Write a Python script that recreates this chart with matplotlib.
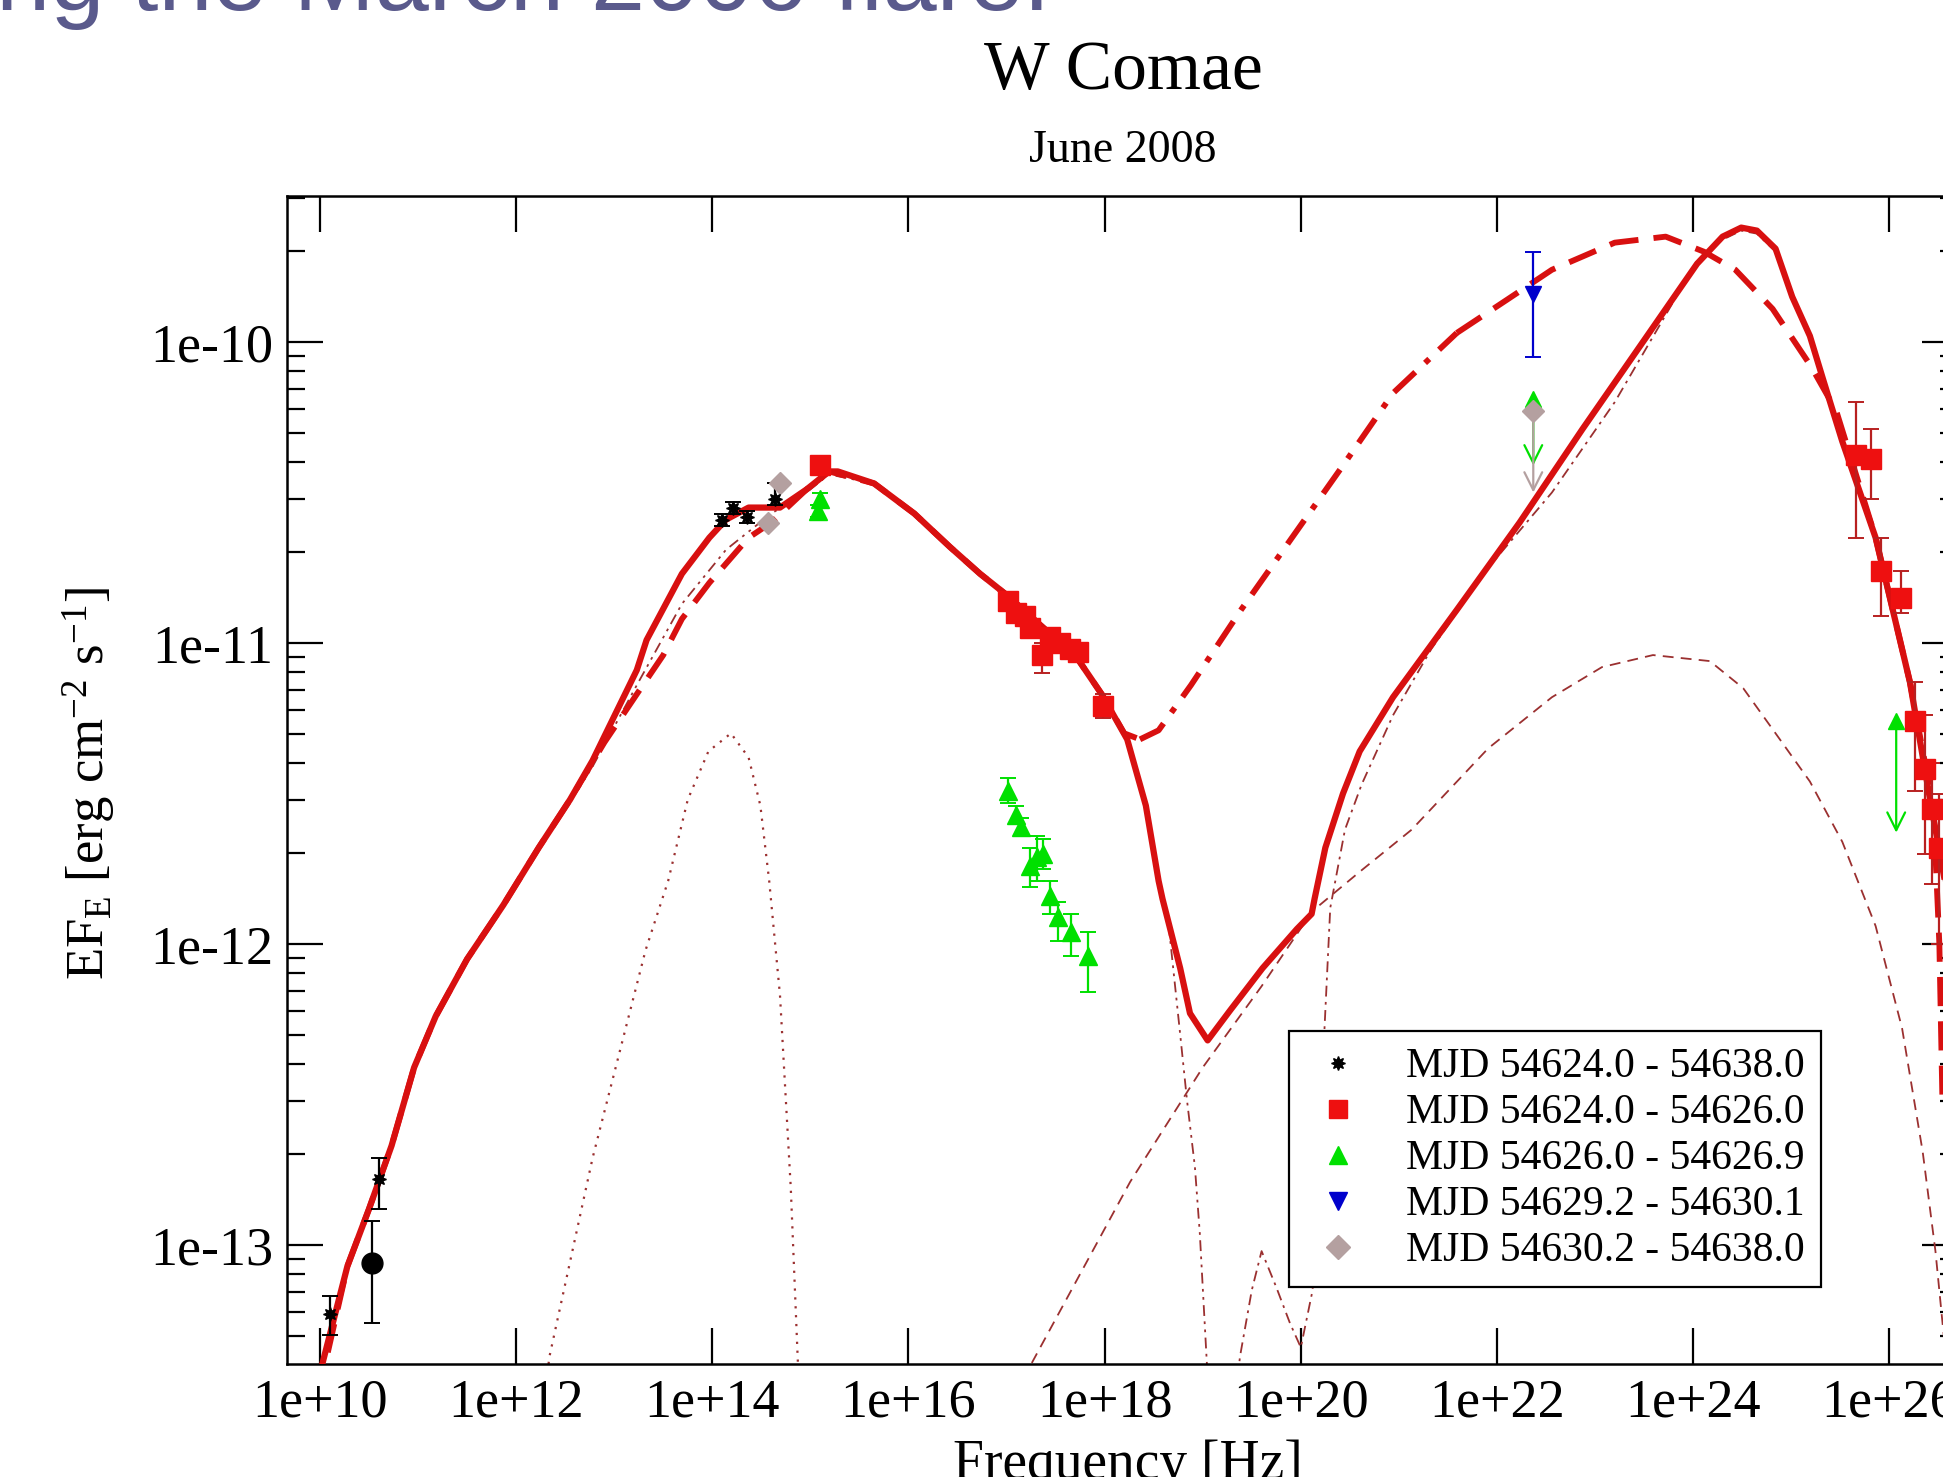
import matplotlib
matplotlib.use("Agg")
import matplotlib.pyplot as plt
from matplotlib.lines import Line2D
import numpy as np

plt.rcParams["font.family"] = ["Liberation Serif", "DejaVu Serif"]
plt.rcParams["mathtext.fontset"] = "custom"
plt.rcParams["mathtext.rm"] = "Liberation Serif"
plt.rcParams["mathtext.it"] = "Liberation Serif:italic"

# ---- model curves (log10 nu [Hz], log10 EF_E) ----
total_lognu = [9.98, 10.02, 10.28, 10.50, 10.73, 10.96, 11.18, 11.50, 11.87, 12.23,
               12.55, 12.78, 13.23, 13.33, 13.69, 13.97, 14.14, 14.37, 14.69, 14.96,
               15.19, 15.28, 15.65, 16.06, 16.42, 16.73, 17.00, 17.72, 17.97, 18.23,
               18.42, 18.55, 18.59, 18.77, 18.87, 19.05, 19.28, 19.61, 19.96, 20.11,
               20.14, 20.25, 20.43, 20.60, 20.94, 21.59, 22.23, 22.87, 23.53, 24.04,
               24.30, 24.49, 24.65, 24.84, 25.01, 25.19, 25.33, 25.52, 25.86, 26.21,
               26.41, 26.56]
total_logf = [-13.50, -13.40, -13.07, -12.88, -12.67, -12.41, -12.24, -12.05, -11.87, -11.68,
              -11.52, -11.39, -11.09, -10.99, -10.77, -10.65, -10.59, -10.55, -10.55, -10.49,
              -10.43, -10.43, -10.47, -10.57, -10.68, -10.77, -10.84, -11.05, -11.17, -11.32,
              -11.54, -11.79, -11.85, -12.08, -12.23, -12.32, -12.22, -12.08, -11.95, -11.90,
              -11.85, -11.68, -11.50, -11.36, -11.18, -10.89, -10.60, -10.29, -9.98, -9.74,
              -9.65, -9.62, -9.63, -9.69, -9.85, -9.98, -10.13, -10.33, -10.65, -11.13,
              -11.51, -11.78]

state2_lognu = [9.98, 10.28, 10.50, 10.73, 10.96, 11.18, 11.50, 11.87, 12.23, 12.55,
                12.90, 13.23, 13.50, 13.69, 13.97, 14.37, 14.60, 14.96, 15.19, 15.65,
                16.06, 16.42, 16.73, 17.00, 17.72, 17.97, 18.20, 18.36, 18.55, 18.88,
                19.39, 19.91, 20.43, 20.94, 21.59, 22.10, 22.56, 23.20, 23.72, 24.11,
                24.43, 24.81, 25.20, 25.46, 25.86, 26.21, 26.45, 26.51, 26.54]
state2_logf = [-13.50, -13.07, -12.88, -12.67, -12.41, -12.24, -12.05, -11.87, -11.68, -11.52,
               -11.33, -11.17, -11.04, -10.92, -10.80, -10.65, -10.60, -10.49, -10.43, -10.47,
               -10.57, -10.68, -10.77, -10.84, -11.05, -11.17, -11.30, -11.32, -11.29, -11.14,
               -10.89, -10.65, -10.41, -10.17, -9.97, -9.86, -9.76, -9.67, -9.65, -9.70,
               -9.76, -9.89, -10.08, -10.23, -10.65, -11.13, -11.55, -12.00, -12.50]

sync_lognu = [12.23, 12.55, 12.78, 13.23, 13.69, 14.14, 14.60, 14.96, 15.19, 15.65,
              16.06, 16.42, 16.73, 17.00, 17.72, 17.97, 18.23, 18.42, 18.55, 18.66,
              18.77, 18.84, 18.92, 18.97, 19.04, 19.08]
sync_logf = [-11.68, -11.53, -11.41, -11.14, -10.87, -10.69, -10.57, -10.50, -10.44, -10.47,
             -10.57, -10.68, -10.77, -10.84, -11.05, -11.17, -11.32, -11.54, -11.79, -11.96,
             -12.30, -12.52, -12.74, -12.96, -13.38, -13.60]

ssc_lognu = [17.10, 17.26, 18.26, 19.00, 19.60, 20.12, 20.60, 21.13, 21.91, 22.56,
             23.07, 23.59, 24.17, 24.51, 24.84, 25.19, 25.52, 25.86, 26.13, 26.34,
             26.47, 26.60]
ssc_logf = [-13.50, -13.39, -12.79, -12.41, -12.14, -11.89, -11.76, -11.62, -11.35, -11.18,
            -11.08, -11.04, -11.06, -11.15, -11.30, -11.46, -11.66, -11.94, -12.28, -12.69,
            -13.02, -13.45]

ec_lognu = [19.30, 19.38, 19.50, 19.60, 19.75, 19.89, 20.00, 20.12, 20.18, 20.24,
            20.30, 20.45, 20.62, 20.94, 21.33, 21.91, 22.56, 23.20, 23.72, 24.04,
            24.30, 24.49, 24.65, 24.84, 25.19, 25.52, 25.86, 26.21, 26.41, 26.56]
ec_logf = [-13.60, -13.37, -13.15, -13.02, -13.14, -13.26, -13.34, -13.15, -12.70, -12.29,
           -11.88, -11.62, -11.47, -11.24, -11.02, -10.75, -10.50, -10.20, -9.91, -9.73,
           -9.66, -9.63, -9.64, -9.70, -9.99, -10.34, -10.66, -11.14, -11.52, -11.80]

disk_lognu = [12.25, 12.34, 12.78, 13.32, 13.55, 13.75, 13.96, 14.19, 14.37, 14.49,
              14.58, 14.69, 14.80, 14.87, 14.90]
disk_logf = [-13.60, -13.37, -12.71, -12.02, -11.79, -11.52, -11.36, -11.30, -11.38, -11.54,
             -11.79, -12.17, -12.81, -13.37, -13.60]

# ---- data points (log10 nu, log10 EF_E, error bar low / high) ----
black_lognu = [10.10, 10.60, 14.10, 14.21, 14.35, 14.64]
black_logf = [-13.23, -12.78, -10.59, -10.55, -10.58, -10.52]
black_lo = [-13.30, -12.88, -10.61, -10.57, -10.60, -10.54]
black_hi = [-13.17, -12.71, -10.57, -10.53, -10.56, -10.47]

radio_lognu = [10.53]
radio_logf = [-13.06]
radio_lo = [-13.26]
radio_hi = [-12.92]

red_lognu = [15.10, 17.01, 17.10, 17.19, 17.24, 17.36, 17.44, 17.54, 17.65,
             17.73, 17.98, 25.66, 25.81, 25.91, 26.12, 26.26, 26.36, 26.44, 26.51]
red_logf = [-10.41, -10.86, -10.90, -10.91, -10.95, -11.04, -10.98, -11.00, -11.02,
            -11.03, -11.21, -10.375, -10.39, -10.76, -10.85, -11.26, -11.42, -11.55, -11.68]
red_lo = [-10.43, -10.89, -10.93, -10.94, -10.98, -11.10, -11.01, -11.03, -11.05,
          -11.06, -11.25, -10.65, -10.52, -10.91, -10.90, -11.49, -11.70, -11.80, -12.00]
red_hi = [-10.39, -10.83, -10.87, -10.88, -10.92, -11.00, -10.95, -10.97, -10.99,
          -11.00, -11.17, -10.20, -10.29, -10.65, -10.76, -11.13, -11.24, -11.40, -11.50]

green_lognu = [15.08, 15.10, 17.01, 17.10, 17.15, 17.24, 17.31, 17.37, 17.44, 17.52, 17.66, 17.83]
green_logf = [-10.56, -10.52, -11.49, -11.57, -11.61, -11.74, -11.71, -11.70, -11.84, -11.91,
              -11.96, -12.04]
green_lo = [-10.58, -10.54, -11.53, -11.60, -11.64, -11.81, -11.79, -11.75, -11.90, -11.99,
            -12.04, -12.16]
green_hi = [-10.54, -10.50, -11.45, -11.54, -11.58, -11.68, -11.64, -11.65, -11.79, -11.86,
            -11.90, -11.96]
green_ul_lognu = [22.37, 26.07]
green_ul_logf = [-10.19, -11.26]
green_ul_end = [-10.41, -11.63]

blue_lognu = [22.37]
blue_logf = [-9.84]
blue_lo = [-10.05]
blue_hi = [-9.70]

grey_lognu = [14.57, 14.69]
grey_logf = [-10.60, -10.47]
grey_ul_lognu = [22.37]
grey_ul_logf = [-10.23]
grey_ul_end = [-10.50]

legend_labels = ["MJD 54624.0 - 54638.0", "MJD 54624.0 - 54626.0", "MJD 54626.0 - 54626.9",
                 "MJD 54629.2 - 54630.1", "MJD 54630.2 - 54638.0"]
xtick_exp = [10, 12, 14, 16, 18, 20, 22, 24, 26]
xtick_labels = ["1e+10", "1e+12", "1e+14", "1e+16", "1e+18", "1e+20", "1e+22", "1e+24", "1e+26"]
ytick_exp = [-13, -12, -11, -10]
ytick_labels = ["1e-13", "1e-12", "1e-11", "1e-10"]


def p(a):
    return 10.0 ** np.asarray(a, dtype=float)


RED = "#d81010"
MRED = "#ee1010"
THIN = "#9b3030"
GREEN = "#00e000"
BLUE = "#0000cc"
GREY = "#b4a0a0"

fig = plt.figure(figsize=(19.43, 14.77), dpi=100)
ax = fig.add_axes([287 / 1943, 113 / 1477, 1671 / 1943, 1168 / 1477])
ax.set_xscale("log")
ax.set_yscale("log")

# thin components
ax.plot(p(disk_lognu), p(disk_logf), color=THIN, lw=1.6, dashes=[1, 3], zorder=2)
ax.plot(p(sync_lognu), p(sync_logf), color=THIN, lw=1.3, dashes=[6, 3, 1.5, 3, 1.5, 3], zorder=2)
ax.plot(p(ssc_lognu), p(ssc_logf), color=THIN, lw=1.3, dashes=[6, 4], zorder=2)
ax.plot(p(ec_lognu), p(ec_logf), color=THIN, lw=1.3, dashes=[6, 3, 1.5, 3], zorder=2)

# second model state, dashed / dash-dot on the rising part
s2n = np.array(state2_lognu)
s2f = np.array(state2_logf)
m_low = s2n <= 18.36
m_mid = (s2n >= 18.36) & (s2n <= 21.59)
m_high = s2n >= 21.59
for m, d in [(m_low, [5.0, 2.6]), (m_mid, [5.0, 2.3, 1.0, 2.3]), (m_high, [5.0, 2.6])]:
    ax.plot(p(s2n[m]), p(s2f[m]), color=RED, lw=4.2, dashes=d, zorder=3)

# total model
ax.plot(p(total_lognu), p(total_logf), color=RED, lw=4.5, zorder=3)


def errs(f, lo, hi):
    f = p(f)
    return np.vstack([f - p(lo), p(hi) - f])


ekw = dict(ls="none", elinewidth=1.6, capsize=6, capthick=1.4, zorder=4)
ax.errorbar(p(black_lognu), p(black_logf), yerr=errs(black_logf, black_lo, black_hi),
            marker=(8, 1, 0), ms=10, color="black", **ekw)
ax.errorbar(p(radio_lognu), p(radio_logf), yerr=errs(radio_logf, radio_lo, radio_hi),
            marker="o", ms=15, color="black", **ekw)
ax.errorbar(p(red_lognu), p(red_logf), yerr=errs(red_logf, red_lo, red_hi),
            marker="s", ms=14, color=MRED, ecolor="#b82020", **ekw)
ax.errorbar(p(green_lognu), p(green_logf), yerr=errs(green_logf, green_lo, green_hi),
            marker="^", ms=13, color=GREEN, **ekw)
ax.errorbar(p(blue_lognu), p(blue_logf), yerr=errs(blue_logf, blue_lo, blue_hi),
            marker="v", ms=11, color=BLUE, **ekw)
ax.plot(p(grey_lognu), p(grey_logf), ls="none", marker="D", ms=11, color=GREY, zorder=4)

# upper limits
for xs, ys, ye, c, mk in [(green_ul_lognu, green_ul_logf, green_ul_end, GREEN, "^"),
                          (grey_ul_lognu, grey_ul_logf, grey_ul_end, GREY, "D")]:
    for x, y0, y1 in zip(xs, ys, ye):
        ax.annotate("", xy=(p(x), p(y1)), xytext=(p(x), p(y0)),
                    arrowprops=dict(arrowstyle="->", color=c, lw=1.6, mutation_scale=32,
                                    shrinkA=0, shrinkB=0), zorder=4)
    ax.plot(p(xs), p(ys), ls="none", marker=mk, ms=11, color=c, zorder=5)

ax.set_xlim(10 ** 9.664, 10 ** 26.70)
ax.set_ylim(10 ** -13.395, 10 ** -9.515)

ax.set_xticks(p(xtick_exp))
ax.set_xticklabels(xtick_labels)
ax.xaxis.set_minor_locator(matplotlib.ticker.NullLocator())
ax.set_yticks(p(ytick_exp))
ax.set_yticklabels(ytick_labels)
ax.yaxis.set_minor_locator(matplotlib.ticker.LogLocator(base=10, subs=np.arange(2, 10)))
ax.yaxis.set_minor_formatter(matplotlib.ticker.NullFormatter())
ax.tick_params(which="both", direction="in", top=True, right=True, width=1.6, labelsize=39)
ax.tick_params(which="major", length=26)
ax.tick_params(which="minor", length=13)
ax.tick_params(axis="x", pad=10)
ax.tick_params(axis="y", pad=10)
for s in ax.spines.values():
    s.set_linewidth(1.8)

ax.set_xlabel("Frequency [Hz]", fontsize=40)
ax.xaxis.set_label_coords(0.503, -0.0865)
ax.xaxis.label.set_va("center")
ax.set_ylabel(r"EF$_{\rm E}$ [erg cm$^{-2}$ s$^{-1}$]", fontsize=38)
ax.yaxis.set_label_coords(-0.118, 0.497)
ax.yaxis.label.set_va("center")

handles = [
    Line2D([], [], ls="none", marker=(8, 1, 0), ms=10, color="black"),
    Line2D([], [], ls="none", marker="s", ms=13, color=MRED),
    Line2D([], [], ls="none", marker="^", ms=13, color=GREEN),
    Line2D([], [], ls="none", marker="v", ms=13, color=BLUE),
    Line2D([], [], ls="none", marker="D", ms=12, color=GREY),
]
leg = ax.legend(handles, legend_labels, loc="upper left", bbox_to_anchor=(0.5996, 0.285),
                borderaxespad=0, fontsize=30, frameon=True, fancybox=False, framealpha=1,
                edgecolor="black", numpoints=1, handlelength=1.55, handletextpad=0.86,
                labelspacing=0.18, borderpad=0.4)
leg.get_frame().set_linewidth(1.6)
leg.set_zorder(10)

fig.text(1123 / 1943, 1 - 72 / 1477, "W Comae", ha="center", va="center", fontsize=50)
fig.text(1123 / 1943, 1 - 151 / 1477, "June 2008", ha="center", va="center", fontsize=33)
fig.text(1050 / 1943, 1 - 10 / 1477, "during the March 2006 flare.", ha="right",
         va="baseline", fontsize=70, color="#5a5a8c", family=["Liberation Sans", "DejaVu Sans"])

fig.savefig("out.png", dpi=100)
